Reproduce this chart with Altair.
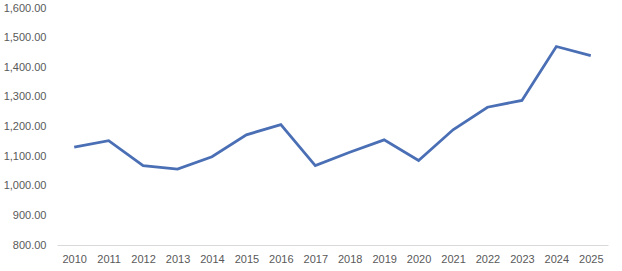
import altair as alt
import pandas as pd

years = [str(y) for y in range(2010, 2026)]
values = [1130, 1152, 1068, 1056, 1098, 1172, 1206, 1068, 1113, 1155, 1085, 1189, 1265, 1288, 1470, 1439]

df = pd.DataFrame({"year": years, "value": values})

chart = alt.Chart(df).mark_line(color="#4A6FB5", strokeWidth=2.8).encode(
    x=alt.X("year:O", sort=years, title=None,
            scale=alt.Scale(type="point", padding=0.5),
            axis=alt.Axis(labelAngle=0, ticks=False, grid=False, domainColor="#d9d9d9",
                          domainWidth=1, labelColor="#595959", labelFontSize=11,
                          labelFont="Liberation Sans", labelPadding=8)),
    y=alt.Y("value:Q", title=None,
            scale=alt.Scale(domain=[800, 1600], nice=False, zero=False),
            axis=alt.Axis(values=list(range(800, 1700, 100)), format=",.2f", ticks=False,
                          grid=False, domain=False, labelColor="#595959", labelFontSize=11,
                          labelFont="Liberation Sans", labelPadding=11)),
).properties(
    width=551, height=237,
    autosize=alt.AutoSizeParams(type="none"),
    padding={"left": 57, "top": 8, "right": 14, "bottom": 26},
).configure_view(stroke=None)

chart.save("out.html", embed_options={"renderer": "svg", "actions": False})
